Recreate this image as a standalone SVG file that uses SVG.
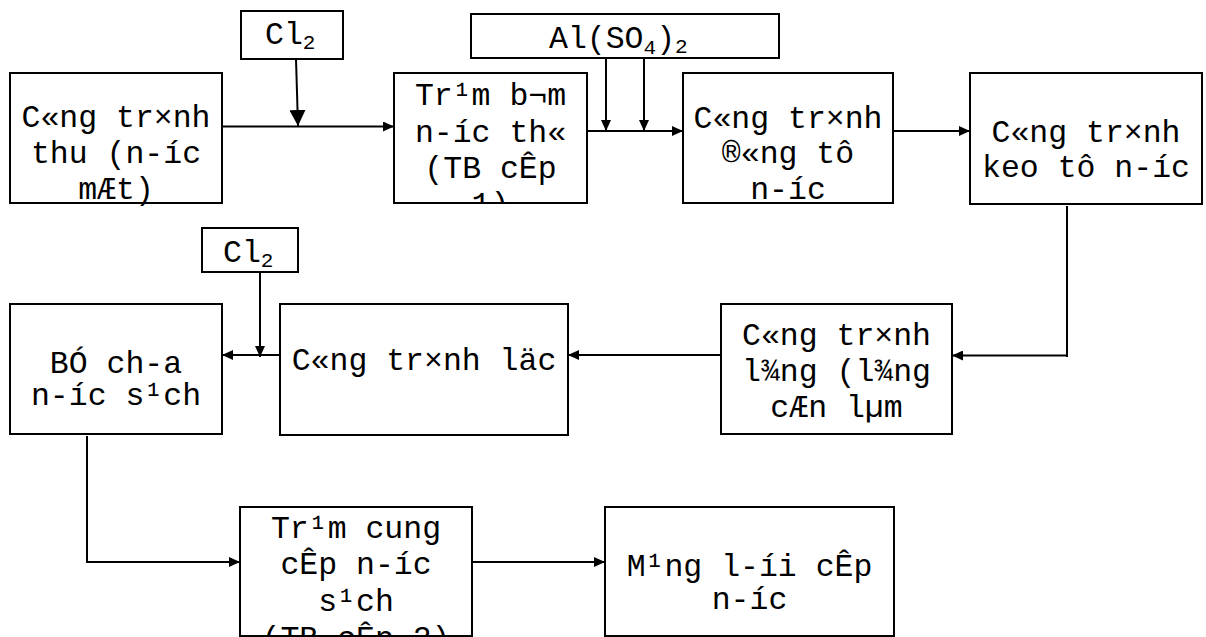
<svg xmlns="http://www.w3.org/2000/svg" width="1206" height="637" viewBox="0 0 1206 637">
<style>
.box{fill:#fff;stroke:#000;stroke-width:2}
.t{font-family:"Liberation Mono","Courier New",monospace;font-size:31.5px;fill:#000;text-anchor:middle}
.s{font-family:"Liberation Mono","Courier New",monospace;font-size:31.5px;fill:#000}
.sub{font-size:21px}
.ln{fill:none;stroke:#000;stroke-width:2}
</style>
<defs>
<marker id="ah" markerUnits="userSpaceOnUse" markerWidth="11" markerHeight="10" refX="11" refY="5" orient="auto"><path d="M0,0 L11,5 L0,10 z" fill="#000"/></marker>
<marker id="ahb" markerUnits="userSpaceOnUse" markerWidth="16" markerHeight="16" refX="16" refY="8" orient="auto"><path d="M0,0 L16,8 L0,16 z" fill="#000"/></marker>
<clipPath id="c2"><rect x="395" y="74" width="191" height="128"/></clipPath>
<clipPath id="c3"><rect x="684" y="74" width="208" height="128"/></clipPath>
<clipPath id="c8"><rect x="241" y="508" width="230" height="127"/></clipPath>
</defs>
<g id="connectors">
<line class="ln" x1="222" y1="126.5" x2="394" y2="126.5" marker-end="url(#ah)"/>
<line class="ln" x1="296" y1="59" x2="298" y2="126" marker-end="url(#ahb)"/>
<line class="ln" x1="587" y1="131" x2="683" y2="131" marker-end="url(#ah)"/>
<line class="ln" x1="606" y1="58" x2="606" y2="131" marker-end="url(#ah)"/>
<line class="ln" x1="644" y1="58" x2="644" y2="131" marker-end="url(#ah)"/>
<line class="ln" x1="893" y1="131" x2="970" y2="131" marker-end="url(#ah)"/>
<line class="ln" x1="1067" y1="206" x2="1067" y2="357"/>
<line class="ln" x1="1067" y1="355.5" x2="952" y2="355.5" marker-end="url(#ah)"/>
<line class="ln" x1="721" y1="355" x2="568" y2="355" marker-end="url(#ah)"/>
<line class="ln" x1="280" y1="355" x2="222" y2="355" marker-end="url(#ah)"/>
<line class="ln" x1="260" y1="272" x2="260" y2="357" marker-end="url(#ah)"/>
<line class="ln" x1="87" y1="436" x2="87" y2="563"/>
<line class="ln" x1="86" y1="562" x2="240" y2="562" marker-end="url(#ah)"/>
<line class="ln" x1="472" y1="562" x2="605" y2="562" marker-end="url(#ah)"/>
</g>
<g id="cl2-top">
<rect class="box" x="241" y="11" width="102" height="48"/>
<text class="s" x="265" y="44">Cl<tspan class="sub" dy="5">2</tspan></text>
</g>
<g id="alum">
<rect class="box" x="471" y="14" width="308" height="44"/>
<text class="s" x="549" y="48">Al(SO<tspan class="sub" dy="6">4</tspan><tspan dy="-6">)</tspan><tspan class="sub" dy="5">2</tspan></text>
</g>
<g id="cl2-mid">
<rect class="box" x="202" y="228" width="96" height="44"/>
<text class="s" x="223" y="262">Cl<tspan class="sub" dy="5">2</tspan></text>
</g>
<g id="n1">
<rect class="box" x="10" y="73" width="212" height="130"/>
<text class="t"><tspan x="116" y="127">C«ng tr×nh</tspan><tspan x="116" y="163">thu (n-íc</tspan><tspan x="116" y="199">mÆt)</tspan></text>
</g>
<g id="n2">
<rect class="box" x="394" y="73" width="193" height="130"/>
<text class="t" clip-path="url(#c2)"><tspan x="490.5" y="105">Tr¹m b¬m</tspan><tspan x="490.5" y="142">n-íc th«</tspan><tspan x="490.5" y="178">(TB cÊp</tspan><tspan x="490.5" y="214">1)</tspan></text>
</g>
<g id="n3">
<rect class="box" x="683" y="73" width="210" height="130"/>
<text class="t" clip-path="url(#c3)"><tspan x="788" y="128">C«ng tr×nh</tspan><tspan x="788" y="163">®«ng tô</tspan><tspan x="788" y="198.5">n-íc</tspan></text>
</g>
<g id="n4">
<rect class="box" x="970" y="73" width="232" height="131"/>
<text class="t"><tspan x="1086" y="142">C«ng tr×nh</tspan><tspan x="1086" y="177">keo tô n-íc</tspan></text>
</g>
<g id="n5">
<rect class="box" x="721" y="304" width="231" height="130"/>
<text class="t"><tspan x="836.5" y="345">C«ng tr×nh</tspan><tspan x="836.5" y="381">l¾ng (l¾ng</tspan><tspan x="836.5" y="417">cÆn lµm</tspan></text>
</g>
<g id="n6">
<rect class="box" x="280" y="304" width="288" height="131"/>
<text class="t" x="424" y="370">C«ng tr×nh läc</text>
</g>
<g id="n7">
<rect class="box" x="10" y="304" width="212" height="130"/>
<text class="t"><tspan x="116" y="373">BÓ ch-a</tspan><tspan x="116" y="405">n-íc s¹ch</tspan></text>
</g>
<g id="n8">
<rect class="box" x="240" y="507" width="232" height="129"/>
<text class="t" clip-path="url(#c8)"><tspan x="356" y="538">Tr¹m cung</tspan><tspan x="356" y="574">cÊp n-íc</tspan><tspan x="356" y="611">s¹ch</tspan><tspan x="356" y="648">(TB cÊp 2)</tspan></text>
</g>
<g id="n9">
<rect class="box" x="605" y="507" width="289" height="129"/>
<text class="t"><tspan x="749.5" y="576">M¹ng l-íi cÊp</tspan><tspan x="749.5" y="609">n-íc</tspan></text>
</g>
</svg>
